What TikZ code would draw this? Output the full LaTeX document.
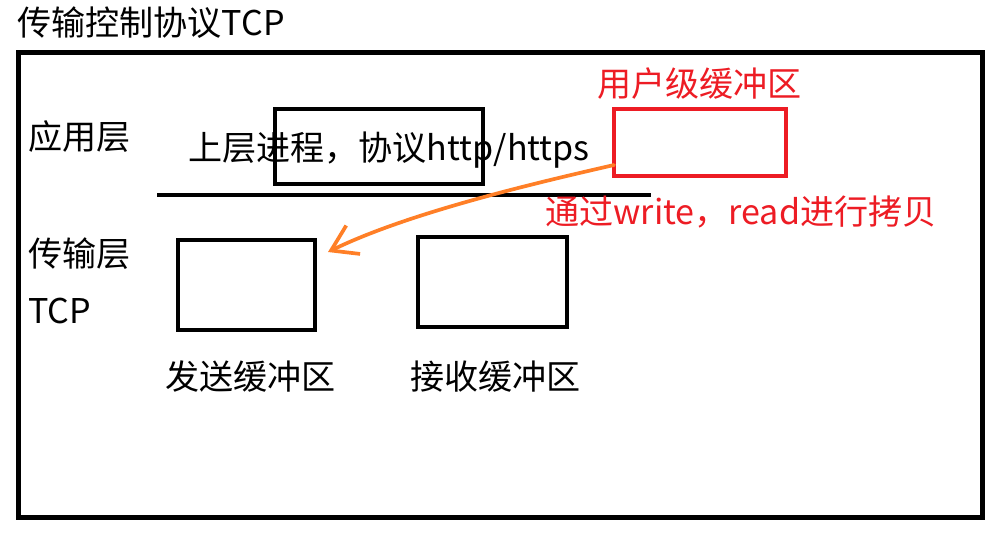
\documentclass[tikz,border=0pt]{standalone}
\usepackage{fontspec}
\setmainfont{Noto Sans CJK SC}
\usepackage{xcolor}
\usetikzlibrary{arrows.meta}
\definecolor{paintred}{HTML}{ED1C24}
\definecolor{paintorange}{HTML}{FF7F27}

\begin{document}
\begin{tikzpicture}[x=0.02cm,y=-0.02cm,
  box/.style={draw=black,line width=2.3pt},
  lbl/.style={anchor=west,inner sep=0pt,font=\fontsize{19.4}{23}\selectfont}]
\useasboundingbox (0,0) rectangle (1001,539);
\coordinate (F1) at (18.5,52.5);
\coordinate (F2) at (982,517);
\coordinate (P1) at (275,109);
\coordinate (P2) at (483,184);
\coordinate (U1) at (614,109);
\coordinate (U2) at (786,176);
\coordinate (S1) at (178,240);
\coordinate (S2) at (315,330);
\coordinate (R1) at (418,237);
\coordinate (R2) at (567,327);
\coordinate (L1) at (157,195);
\coordinate (L2) at (651,195);
\draw[box,line width=2.85pt] (F1) rectangle (F2); %outer frame%
\node[lbl] (title) at (17,23) {传输控制协议TCP};
\node[lbl] (app) at (28,137) {应用层};
\node[lbl] (trans) at (28,254) {传输层};
\node[lbl] (tcp) at (28,311) {TCP};
\node[lbl] (proc) at (188,150) {上层进程，协议http/https};
\draw[box] (P1) rectangle (P2);
\draw[line width=1.8pt] (L1) -- (L2); %layer boundary%
\draw[box,draw=paintred] (U1) rectangle (U2); %user buffer%
\node[lbl,text=paintred] (ubuf) at (597,84) {用户级缓冲区};
\node[lbl,text=paintred] (copy) at (545,212) {通过write，read进行拷贝};
\draw[box] (S1) rectangle (S2); %send buffer%
\draw[box] (R1) rectangle (R2); %receive buffer%
\node[lbl] (send) at (165,377) {发送缓冲区};
\node[lbl] (recv) at (410,377) {接收缓冲区};

% copy from user buffer to send buffer
\coordinate (ustart) at (614,165);
\coordinate (stip) at (328,252);
\draw[-{Straight Barb[length=14pt,width=18pt]},paintorange,line width=2.1pt,line cap=round]
  (ustart) .. controls (540,182) and (410,212) .. (stip);
\end{tikzpicture}
\end{document}
